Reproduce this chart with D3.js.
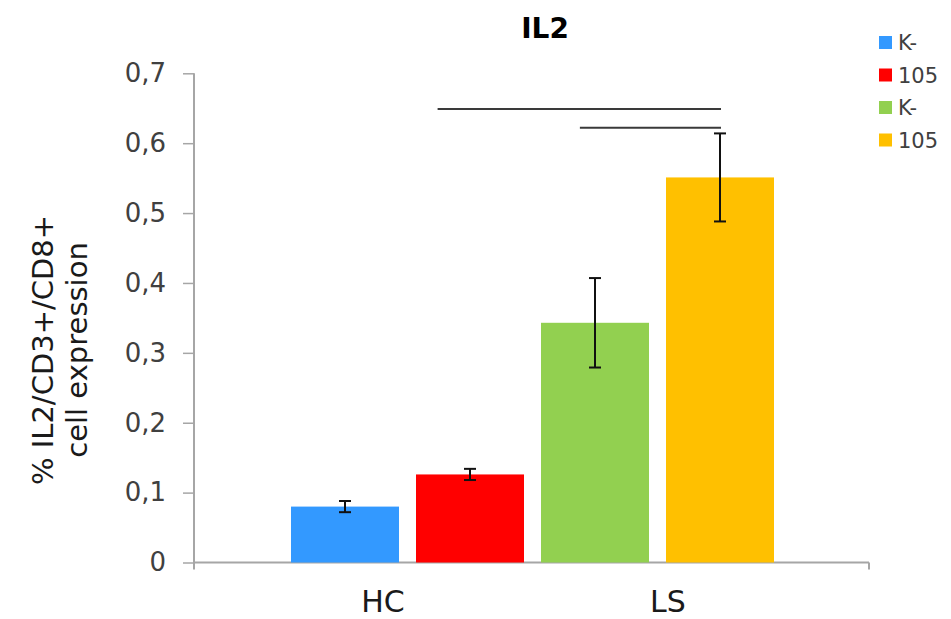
<!DOCTYPE html>
<html>
<head>
<meta charset="utf-8">
<script src="https://cdn.jsdelivr.net/npm/d3@7"></script>
<style>
  html, body { margin: 0; padding: 0; background: #fff; }
  svg { display: block; font-family: "DejaVu Sans", sans-serif; }
</style>
</head>
<body>
<svg id="chart" width="951" height="619"></svg>
<script>
// IL2 expression in CD3+/CD8+ cells, per group and stimulation
const categories = ["HC", "LS"];
const barIds = ["HC K-", "HC 105", "LS K-", "LS 105"];
const legendLabels = ["K-", "105", "K-", "105"];
const values = [0.080, 0.126, 0.343, 0.551];
const errors = [0.008, 0.008, 0.064, 0.063];
const colors = ["#3399FF", "#FF0000", "#92D050", "#FFC000"];
const yTicks = [0, 0.1, 0.2, 0.3, 0.4, 0.5, 0.6, 0.7];
const yTickLabels = ["0", "0,1", "0,2", "0,3", "0,4", "0,5", "0,6", "0,7"];
// significance brackets: from bar index (with offset in bandwidths) to bar index, at a y value
const brackets = [
  { from: 1, fromOffset: -0.30, to: 3, level: 0.649 },
  { from: 2, fromOffset: -0.14, to: 3, level: 0.622 }
];

const svg = d3.select("#chart");
const axisColor = "#a6a6a6";
const textColor = "#404040";

const plot = { left: 194, right: 869, top: 73.3, bottom: 562.5 };

const y = d3.scaleLinear().domain([0, 0.7]).range([plot.bottom, plot.top]);
const x = d3.scaleBand().domain(barIds).range([291, 774]).paddingInner(0.136).paddingOuter(0);
const xCat = d3.scalePoint().domain(categories).range([383, 668]);

// Title
svg.append("text")
  .attr("x", 545).attr("y", 38)
  .attr("text-anchor", "middle")
  .attr("font-weight", "bold")
  .attr("font-size", 28)
  .attr("fill", "#000")
  .text("IL2");

// Y axis
const yAxis = d3.axisLeft(y)
  .tickValues(yTicks)
  .tickFormat((d, i) => yTickLabels[i])
  .tickSize(11)
  .tickPadding(17);
const gy = svg.append("g").attr("transform", `translate(${plot.left},0)`).call(yAxis);
gy.select(".domain").remove();
gy.selectAll(".tick line").attr("stroke", axisColor).attr("stroke-width", 1.5);
gy.selectAll(".tick text")
  .attr("font-size", 26)
  .attr("fill", textColor)
  .attr("font-family", "'DejaVu Sans', sans-serif");
gy.append("line")
  .attr("x1", 0).attr("x2", 0)
  .attr("y1", plot.top).attr("y2", plot.bottom + 6)
  .attr("stroke", axisColor).attr("stroke-width", 2);

// X axis baseline and end ticks
svg.append("line")
  .attr("x1", plot.left).attr("x2", plot.right)
  .attr("y1", plot.bottom).attr("y2", plot.bottom)
  .attr("stroke", axisColor).attr("stroke-width", 2);
[plot.left, plot.right].forEach(px => {
  svg.append("line")
    .attr("x1", px).attr("x2", px)
    .attr("y1", plot.bottom).attr("y2", plot.bottom + 7)
    .attr("stroke", axisColor).attr("stroke-width", 2);
});

// Category labels
svg.append("g").selectAll("text")
  .data(categories)
  .join("text")
  .attr("x", d => xCat(d))
  .attr("y", 612)
  .attr("text-anchor", "middle")
  .attr("font-size", 30)
  .attr("fill", "#1a1a1a")
  .text(d => d);

// Bars
svg.append("g").selectAll("rect")
  .data(barIds)
  .join("rect")
  .attr("x", d => x(d))
  .attr("width", x.bandwidth())
  .attr("y", (d, i) => y(values[i]))
  .attr("height", (d, i) => y(0) - y(values[i]))
  .attr("fill", (d, i) => colors[i]);

// Error bars
const capHalf = 6;
const eg = svg.append("g").attr("stroke", "#111").attr("stroke-width", 2);
barIds.forEach((id, i) => {
  const cx = x(id) + x.bandwidth() / 2;
  const hi = y(values[i] + errors[i]);
  const lo = y(values[i] - errors[i]);
  eg.append("line").attr("x1", cx).attr("x2", cx).attr("y1", hi).attr("y2", lo);
  eg.append("line").attr("x1", cx - capHalf).attr("x2", cx + capHalf).attr("y1", hi).attr("y2", hi);
  eg.append("line").attr("x1", cx - capHalf).attr("x2", cx + capHalf).attr("y1", lo).attr("y2", lo);
});

// Significance brackets
const bg = svg.append("g").attr("stroke", "#3a3a3a").attr("stroke-width", 2);
brackets.forEach(b => {
  const x1 = x(barIds[b.from]) + x.bandwidth() * (0.5 + b.fromOffset);
  const x2 = x(barIds[b.to]) + x.bandwidth() / 2 + 1;
  bg.append("line").attr("x1", x1).attr("x2", x2).attr("y1", y(b.level)).attr("y2", y(b.level));
});

// Y axis title
const yTitle = svg.append("text")
  .attr("transform", "translate(0,350) rotate(-90)")
  .attr("text-anchor", "middle")
  .attr("font-size", 29)
  .attr("fill", "#1a1a1a");
yTitle.append("tspan").attr("x", 0).attr("y", 53).text("% IL2/CD3+/CD8+");
yTitle.append("tspan").attr("x", 0).attr("y", 87).text("cell expression");

// Legend
const legend = svg.append("g");
const legendY = [43, 75.5, 108, 140.5];
legendLabels.forEach((lab, i) => {
  legend.append("rect")
    .attr("x", 879).attr("y", legendY[i] - 7)
    .attr("width", 13).attr("height", 13)
    .attr("fill", colors[i]);
  legend.append("text")
    .attr("x", 898).attr("y", legendY[i])
    .attr("dy", "0.35em")
    .attr("font-size", 21)
    .attr("fill", textColor)
    .text(lab);
});
</script>
</body>
</html>
